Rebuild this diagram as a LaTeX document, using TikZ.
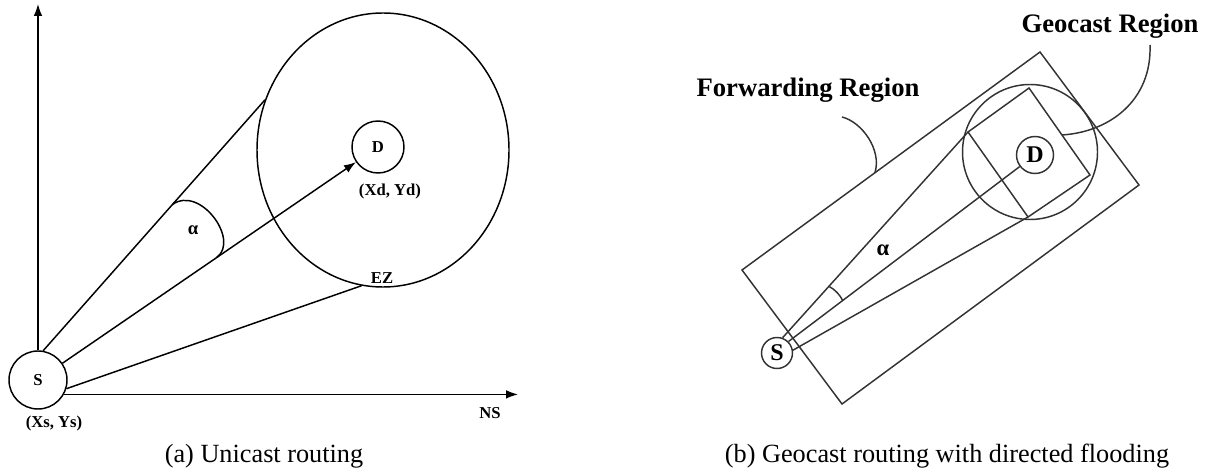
\documentclass[tikz,border=0pt]{standalone}
\usepackage{fontspec}
\setmainfont{Liberation Serif}
\usetikzlibrary{arrows.meta,shapes.geometric,calc}
\begin{document}
\begin{tikzpicture}[x=0.75pt,y=-0.75pt,
  ln/.style={line width=1.1pt,draw=black},
  lnb/.style={line width=1.1pt,draw=black!80},
  arr/.style={-{Latex[length=9pt,width=6.5pt]}},
  small/.style={font=\bfseries\fontsize{12.5}{14}\selectfont,inner sep=0pt},
  big/.style={font=\bfseries\fontsize{20}{23}\selectfont,inner sep=0pt},
  mid/.style={font=\bfseries\fontsize{18}{21}\selectfont,inner sep=0pt},
  captxt/.style={font=\fontsize{19.7}{23}\selectfont,inner sep=0pt,anchor=base},
  nodec/.style={circle,inner sep=0pt}]
\useasboundingbox (0,0) rectangle (1209,470);

% ---------- (a) Unicast routing ----------
\node[nodec,ln,small,minimum size=43.5pt] (S1) at (38,380) {S};
\node[nodec,ln,small,minimum size=39pt] (D1) at (378,147) {D};
\node[ellipse,ln,minimum width=189pt,minimum height=205.5pt,inner sep=0pt] (zone) at (383,150) {};
\coordinate (ytop) at (37,4);
\coordinate (xend) at (518,394);
\draw[ln,arr] (S1.north) -- (S1.north |- ytop);
\draw[ln,arr] (S1.-29) -- (S1.-29 -| xend);
\draw[ln] (S1.80) -- (zone.157);
\draw[ln,arr] (S1) -- (D1);
\draw[ln] (S1.-17) -- (zone.261);
\draw[ln] ($(S1.80)!0.583!(zone.157)$) .. controls (200,185) and (240,240) .. ($(S1)!0.526!(D1)$);

\node[small,anchor=base] (xs) at (54,427) {(Xs, Ys)};
\node[small,anchor=base] (xd) at (390,196) {(Xd, Yd)};
\node[small,anchor=base] (ez) at (382,283) {EZ};
\node[small,anchor=base] (ns) at (490,418) {NS};
\node[font=\bfseries\fontsize{14}{16}\selectfont,inner sep=0pt,anchor=base] (al1) at (193,235) {α};
\node[captxt] (capa) at (264,462) {(a) Unicast routing};

% ---------- (b) Geocast routing ----------
\coordinate (A) at (742,270);
\coordinate (B) at (1040,52);
\coordinate (C) at (1139,185);
\coordinate (E) at (842,404);
\draw[lnb] (A) -- (B) -- (C) -- (E) -- cycle;
\node[nodec,lnb,minimum size=101.25pt] (G) at (1030,152) {};
\coordinate (P) at (968,132);
\coordinate (Q) at (1029,88);
\coordinate (R) at (1090,175);
\coordinate (T) at (1028,217);
\draw[lnb] (P) -- (Q) -- (R) -- (T) -- cycle;
\node[nodec,lnb,mid,minimum size=27.75pt] (D2) at (1035,155) {D};
\node[nodec,lnb,mid,minimum size=23.25pt] (S2) at (777,353) {S};
\draw[lnb] (S2.70) -- (P);
\draw[lnb] (S2.45) -- (D2);
\draw[lnb] (S2.10) -- (T);
\draw[lnb] ($(S2.70)!0.25!(P)$) .. controls (835,289.5) and (840,295) .. ($(S2.45)!0.22!(D2)$);
\node[font=\bfseries\fontsize{17}{20}\selectfont,inner sep=0pt,anchor=base] (al2) at (883,255) {α};

\node[big,anchor=base] (fr) at (808,97) {Forwarding Region};
\node[big,anchor=base] (gr) at (1110,33) {Geocast Region};
\coordinate (frs) at (842,117);
\coordinate (grs) at (1150,45);
\draw[lnb] (frs) .. controls (862,122) and (882,150) .. ($(A)!0.446!(B)$);
\draw[lnb] (grs) .. controls (1152,100) and (1110,132) .. ($(Q)!0.54!(R)$);

\node[captxt] (capb) at (947,462) {(b) Geocast routing with directed flooding};
\end{tikzpicture}
\end{document}
